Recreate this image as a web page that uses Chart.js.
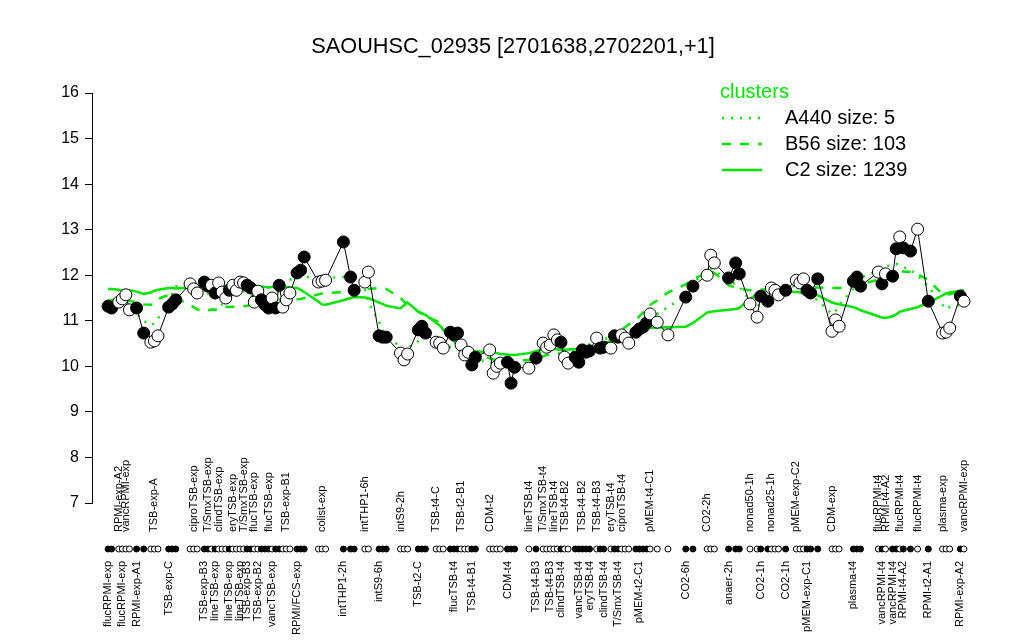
<!DOCTYPE html>
<html>
<head>
<meta charset="utf-8">
<script src="https://cdn.jsdelivr.net/npm/chart.js@4"></script>
<style>
  html, body { margin: 0; padding: 0; background: #fff; }
</style>
</head>
<body>
<canvas id="chart" width="1024" height="640"></canvas>
<script>
// expression values per sample, in plot order (rows of 10)
const values = [
  11.32, 11.28, 11.41, 11.48, 11.57, 11.24, 11.28, 10.73, 10.53, 10.56,
  10.67, 11.30, 11.37, 11.46, 11.81, 11.70, 11.61, 11.85, 11.76, 11.78,
  11.61, 11.83, 11.63, 11.50, 11.67, 11.78, 11.67, 11.85, 11.83, 11.78,
  11.72, 11.41, 11.65, 11.46, 11.35, 11.28, 11.50, 11.28, 11.78, 11.30,
  11.46, 11.61, 12.05, 12.11, 12.40, 11.85, 11.87, 11.89, 12.73, 11.96,
  11.67, 11.85, 12.07, 10.67, 10.64, 10.64, 10.29, 10.14, 10.27, 10.80,
  10.88, 10.73, 10.53, 10.51, 10.40, 10.75, 10.69, 10.73, 10.47, 10.25,
  10.31, 10.03, 10.20, 10.36, 9.85, 10.00, 10.07, 10.09, 9.63, 9.98,
  9.96, 10.18, 10.51, 10.42, 10.47, 10.69, 10.58, 10.53, 10.20, 10.07,
  10.20, 10.09, 10.36, 10.31, 10.34, 10.62, 10.40, 10.42, 10.40, 10.67,
  10.64, 10.69, 10.62, 10.51, 10.75, 10.82, 10.86, 10.95, 11.15, 10.97,
  10.69, 11.52, 11.76, 12.00, 12.44, 12.27, 11.94, 12.27, 12.03, 11.37,
  11.08, 11.54, 11.43, 11.72, 11.67, 11.57, 11.67, 11.89, 11.83, 11.92,
  11.67, 11.61, 11.92, 10.77, 11.02, 10.88, 11.87, 11.96, 11.76, 12.07,
  11.81, 12.03, 11.98, 12.58, 12.84, 12.60, 12.53, 13.01, 11.43, 10.73,
  10.75, 10.84, 11.54, 11.43
];

// 1 = filled marker, 0 = open marker
const filled = [
  1,1,0,0,0,0,1,1,0,0,
  0,1,1,1,0,0,0,1,1,0,
  1,0,0,0,1,0,0,0,0,1,
  1,0,0,1,1,1,0,1,1,0,
  0,0,1,1,1,0,0,0,1,1,
  1,0,0,1,1,1,0,0,0,1,
  1,1,0,0,0,1,1,1,0,0,
  0,1,1,0,0,0,0,1,1,1,
  0,1,0,0,0,0,0,1,0,0,
  1,1,1,1,1,0,1,1,0,1,
  1,0,0,0,1,1,1,1,0,0,
  0,1,1,0,0,0,1,1,1,0,
  0,1,1,0,0,0,1,0,0,0,
  1,1,1,0,0,0,1,1,1,0,
  1,0,1,1,0,1,1,0,1,0,
  0,0,1,0
];

// empty sample slots before each sample (spacing between condition groups)
const gaps = [
  0,0,1,0,0,0,1,1,1,0,
  0,2,0,0,3,0,0,1,0,0,
  0,0,0,0,0,0,0,0,0,0,
  0,0,0,0,0,0,0,0,0,0,
  0,0,1,0,0,3,0,0,4,1,
  0,2,0,2,0,0,3,0,0,2,
  0,0,2,0,0,1,0,0,0,0,
  0,0,0,3,0,0,0,1,0,0,
  3,1,1,0,0,0,0,0,0,0,
  1,0,0,0,0,1,0,0,1,0,
  0,0,0,0,1,0,0,0,0,1,
  2,4,1,3,0,0,3,1,0,2,
  1,0,1,0,0,0,1,2,0,0,
  0,0,1,3,0,0,3,0,0,4,
  0,0,1,0,0,0,1,1,2,3,
  0,0,2,0
];

// sample names ('' where the label is not printed)
const names = [
  'flucRPMI-exp', '', 'RPMI-exp-A2', 'flucRPMI-exp', 'vancRPMI-exp', '', 'RPMI-exp-A1', '', '', 'TSB-exp-A',
  '', 'TSB-exp-C', '', '', '', 'ciproTSB-exp', '', 'TSB-exp-B3', 'T/SmxTSB-exp', '',
  'lineTSB-exp', 'clindTSB-exp', '', '', 'lineTSB-exp', 'eryTSB-exp', '', 'lineTSB-exp', 'T/SmxTSB-exp', 'TSB-exp-B3',
  '', 'flucTSB-exp', 'TSB-exp-B2', '', '', 'flucTSB-exp', 'vancTSB-exp', '', '', '',
  'TSB-exp-B1', '', 'RPMI/FCS-exp', '', '', '', 'colist-exp', '', 'intTHP1-2h', '',
  '', 'intTHP1-6h', '', 'intS9-6h', '', '', 'intS9-2h', '', '', 'TSB-t2-C',
  '', '', 'TSB-t4-C', '', '', '', 'flucTSB-t4', '', 'TSB-t2-B1', '',
  '', 'TSB-t4-B1', '', 'CDM-t2', '', '', '', 'CDM-t4', '', '',
  'lineTSB-t4', 'TSB-t4-B3', 'T/SmxTSB-t4', '', 'TSB-t4-B3', 'lineTSB-t4', '', 'clindTSB-t4', 'TSB-t4-B2', '',
  '', 'vancTSB-t4', 'TSB-t4-B2', '', 'eryTSB-t4', 'TSB-t4-B3', '', 'clindTSB-t4', 'eryTSB-t4', '',
  'T/SmxTSB-t4', 'ciproTSB-t4', '', '', '', 'pMEM-t2-C1', '', '', 'pMEM-t4-C1', '',
  '', 'CO2-6h', '', 'CO2-2h', '', '', 'anaer-2h', '', '', 'nonad50-1h',
  '', 'CO2-1h', '', 'nonad25-1h', '', '', 'CO2-1h', 'pMEM-exp-C2', '', '',
  'pMEM-exp-C1', '', '', 'CDM-exp', '', '', 'plasma-t4', '', '', 'flucRPMI-t4',
  'vancRPMI-t4', 'RPMI-t4-A2', 'vancRPMI-t4', '', 'flucRPMI-t4', 'RPMI-t4-A2', '', 'flucRPMI-t4', 'RPMI-t2-A1', 'plasma-exp',
  '', '', 'RPMI-exp-A2', 'vancRPMI-exp'
];

// 1 = name printed above the marker strip, 0 = below
const onTop = [
  0,0,1,0,1,0,0,0,0,1,
  0,0,0,0,0,1,0,0,1,0,
  0,1,0,0,0,1,0,0,1,0,
  0,1,0,0,0,1,0,0,0,0,
  1,0,0,0,0,0,1,0,0,0,
  0,1,0,0,0,0,1,0,0,0,
  0,0,1,0,0,0,0,0,1,0,
  0,0,0,1,0,0,0,0,0,0,
  1,0,1,0,0,1,0,0,1,0,
  0,0,1,0,0,1,0,0,1,0,
  0,1,0,0,0,0,0,0,1,0,
  0,0,0,1,0,0,0,0,0,1,
  0,0,0,1,0,0,0,1,0,0,
  0,0,0,1,0,0,0,0,0,1,
  0,1,0,0,1,0,0,1,0,1,
  0,0,0,1
];

// cluster mean profiles
const clusterA440 = [
  11.45, 11.45, 11.45, 11.45, 11.40, 11.30, 11.15, 11.00, 10.90, 10.95,
  11.05, 11.40, 11.60, 11.75, 11.85, 11.80, 11.70, 11.65, 11.60, 11.55,
  11.50, 11.40, 11.35, 11.35, 11.42, 11.50, 11.55, 11.62, 11.65, 11.60,
  11.55, 11.45, 11.40, 11.35, 11.35, 11.38, 11.45, 11.55, 11.70, 11.80,
  11.85, 11.90, 11.95, 11.98, 11.98, 11.90, 11.92, 11.94, 11.96, 11.90,
  11.75, 11.68, 11.40, 10.98, 10.80, 10.70, 10.42, 10.35, 10.40, 10.55,
  10.62, 10.65, 10.55, 10.50, 10.45, 10.42, 10.40, 10.38, 10.30, 10.25,
  10.22, 10.18, 10.15, 10.10, 10.05, 10.02, 10.00, 9.98, 9.97, 9.98,
  10.10, 10.22, 10.35, 10.40, 10.45, 10.47, 10.45, 10.42, 10.38, 10.35,
  10.35, 10.35, 10.40, 10.45, 10.48, 10.55, 10.58, 10.60, 10.62, 10.63,
  10.62, 10.58, 10.55, 10.58, 10.70, 10.80, 10.90, 10.98, 11.05, 11.15,
  11.30, 11.55, 11.85, 12.05, 12.15, 12.10, 11.88, 11.80, 11.75, 11.45,
  11.30, 11.40, 11.55, 11.72, 11.78, 11.80, 11.78, 11.75, 11.72, 11.70,
  11.62, 11.55, 11.45, 11.15, 11.20, 11.35, 11.70, 11.85, 11.95, 12.10,
  12.18, 12.20, 12.22, 12.25, 12.22, 12.18, 12.12, 12.00, 11.75, 11.35,
  11.25, 11.30, 11.35, 11.38
];

const clusterB56 = [
  11.45, 11.45, 11.47, 11.48, 11.46, 11.44, 11.40, 11.36, 11.35, 11.40,
  11.48, 11.57, 11.55, 11.50, 11.35, 11.30, 11.25, 11.20, 11.22, 11.25,
  11.24, 11.25, 11.28, 11.30, 11.30, 11.31, 11.30, 11.30, 11.32, 11.33,
  11.35, 11.38, 11.40, 11.42, 11.43, 11.44, 11.45, 11.45, 11.46, 11.46,
  11.46, 11.46, 11.47, 11.48, 11.50, 11.58, 11.60, 11.61, 11.63, 11.64,
  11.65, 11.68, 11.70, 11.72, 11.72, 11.70, 11.50, 11.42, 11.38, 11.20,
  11.15, 11.10, 11.00, 10.95, 10.85, 10.65, 10.58, 10.50, 10.40, 10.35,
  10.30, 10.25, 10.22, 10.18, 10.15, 10.14, 10.14, 10.13, 10.13, 10.13,
  10.14, 10.18, 10.22, 10.25, 10.26, 10.27, 10.28, 10.28, 10.28, 10.29,
  10.29, 10.30, 10.32, 10.34, 10.37, 10.42, 10.45, 10.50, 10.60, 10.68,
  10.74, 10.80, 10.86, 10.92, 11.02, 11.10, 11.18, 11.25, 11.35, 11.45,
  11.62, 11.80, 11.92, 12.05, 12.10, 12.05, 11.78, 11.72, 11.70, 11.67,
  11.67, 11.68, 11.69, 11.70, 11.71, 11.72, 11.72, 11.73, 11.73, 11.73,
  11.73, 11.73, 11.73, 11.72, 11.72, 11.72, 11.75, 11.78, 11.80, 11.90,
  11.95, 11.98, 12.02, 12.05, 12.08, 12.08, 12.07, 12.02, 11.90, 11.58,
  11.57, 11.58, 11.65, 11.67
];

const clusterC2 = [
  11.70, 11.70, 11.68, 11.66, 11.67, 11.67, 11.64, 11.59, 11.62, 11.66,
  11.68, 11.72, 11.72, 11.71, 11.73, 11.74, 11.73, 11.74, 11.75, 11.76,
  11.76, 11.75, 11.77, 11.77, 11.76, 11.78, 11.77, 11.78, 11.77, 11.76,
  11.75, 11.76, 11.74, 11.75, 11.74, 11.73, 11.74, 11.74, 11.73, 11.74,
  11.74, 11.73, 11.72, 11.68, 11.63, 11.42, 11.36, 11.35, 11.45, 11.50,
  11.52, 11.51, 11.50, 11.40, 11.37, 11.33, 11.27, 11.34, 11.40, 11.20,
  11.17, 11.13, 10.95, 10.90, 10.80, 10.62, 10.55, 10.47, 10.42, 10.40,
  10.37, 10.35, 10.33, 10.31, 10.30, 10.29, 10.27, 10.26, 10.25, 10.25,
  10.29, 10.33, 10.38, 10.40, 10.39, 10.38, 10.37, 10.36, 10.36, 10.37,
  10.38, 10.39, 10.39, 10.40, 10.41, 10.45, 10.48, 10.51, 10.55, 10.59,
  10.61, 10.64, 10.66, 10.69, 10.75, 10.78, 10.81, 10.83, 10.84, 10.85,
  10.86, 10.87, 10.95, 11.18, 11.20, 11.21, 11.24, 11.26, 11.28, 11.47,
  11.60, 11.64, 11.67, 11.67, 11.66, 11.65, 11.64, 11.63, 11.62, 11.61,
  11.60, 11.59, 11.56, 11.40, 11.38, 11.36, 11.30, 11.27, 11.23, 11.10,
  11.07, 11.06, 11.10, 11.14, 11.20, 11.22, 11.26, 11.30, 11.40, 11.56,
  11.60, 11.62, 11.66, 11.67
];

const yTicks = [7, 8, 9, 10, 11, 12, 13, 14, 15, 16];
const titleText = 'SAOUHSC_02935 [2701638,2702201,+1]';
const legendItems = [
  { label: 'A440 size: 5', dash: [2, 7] },
  { label: 'B56 size: 103', dash: [9, 9] },
  { label: 'C2 size: 1239', dash: [] }
];

const GREEN = '#00e600';
const FONT = '"Liberation Sans", Arial, Helvetica, sans-serif';

// slot index of every sample on the x axis
const slots = [];
gaps.forEach((g, i) => slots.push((i === 0 ? 0 : slots[i - 1] + 1) + g));

const toPoints = arr => arr.map((v, i) => ({ x: slots[i], y: v }));

function clusterLine(arr, dash, order) {
  return {
    data: toPoints(arr),
    borderColor: GREEN,
    borderWidth: 2.5,
    borderDash: dash,
    pointRadius: 0,
    tension: 0,
    order
  };
}

// title, marker strip, sample names and the cluster legend
const decorations = {
  id: 'decorations',
  afterDraw(chart) {
    const ctx = chart.ctx;
    const xs = chart.scales.x;
    const area = chart.chartArea;
    const stripY = area.bottom + 46;

    ctx.save();
    ctx.fillStyle = '#000';
    ctx.font = '21.7px ' + FONT;
    ctx.textAlign = 'center';
    ctx.textBaseline = 'middle';
    ctx.fillText(titleText, 513, 47);

    slots.forEach((s, i) => {
      const px = xs.getPixelForValue(s);
      ctx.beginPath();
      ctx.arc(px, stripY, 3, 0, Math.PI * 2);
      ctx.fillStyle = filled[i] ? '#000' : '#fff';
      ctx.fill();
      ctx.lineWidth = 1;
      ctx.strokeStyle = '#000';
      ctx.stroke();
    });

    ctx.fillStyle = '#000';
    ctx.font = '11px ' + FONT;
    names.forEach((n, i) => {
      if (!n) return;
      const px = xs.getPixelForValue(slots[i]);
      ctx.save();
      ctx.translate(px, onTop[i] ? stripY - 17 : stripY + 12);
      ctx.rotate(-Math.PI / 2);
      ctx.textAlign = onTop[i] ? 'left' : 'right';
      ctx.textBaseline = 'middle';
      ctx.fillText(n, 0, 0);
      ctx.restore();
    });

    // legend
    ctx.font = '20px ' + FONT;
    ctx.textAlign = 'left';
    ctx.fillStyle = GREEN;
    ctx.fillText('clusters', 720, 92);
    legendItems.forEach((item, k) => {
      const y = 118 + k * 26;
      ctx.beginPath();
      ctx.setLineDash(item.dash);
      ctx.strokeStyle = GREEN;
      ctx.lineWidth = 2.5;
      ctx.moveTo(722, y);
      ctx.lineTo(762, y);
      ctx.stroke();
      ctx.setLineDash([]);
      ctx.fillStyle = '#000';
      ctx.fillText(item.label, 785, y);
    });
    ctx.restore();
  }
};

new Chart(document.getElementById('chart').getContext('2d'), {
  type: 'line',
  data: {
    datasets: [
      {
        data: toPoints(values),
        borderColor: '#000',
        borderWidth: 1,
        tension: 0,
        pointRadius: 6,
        pointBorderWidth: 1,
        pointBorderColor: '#000',
        pointBackgroundColor: filled.map(f => (f ? '#000' : '#fff')),
        order: 0
      },
      clusterLine(clusterA440, [2, 7], 1),
      clusterLine(clusterB56, [9, 9], 2),
      clusterLine(clusterC2, [], 3)
    ]
  },
  options: {
    responsive: false,
    animation: false,
    layout: { padding: { left: 32, right: 44, top: 93, bottom: 137 } },
    plugins: { legend: { display: false }, tooltip: { enabled: false } },
    scales: {
      x: { type: 'linear', min: -4.5, max: 244.5, display: false },
      y: {
        min: 7,
        max: 16,
        afterBuildTicks: s => { s.ticks = yTicks.map(v => ({ value: v })); },
        afterFit: s => { s.width = 60; },
        ticks: { color: '#000', font: { size: 16, family: FONT }, padding: 6 },
        grid: { drawOnChartArea: false, tickLength: 7, color: '#000' },
        border: { color: '#000', width: 1 }
      }
    }
  },
  plugins: [decorations]
});
</script>
</body>
</html>
